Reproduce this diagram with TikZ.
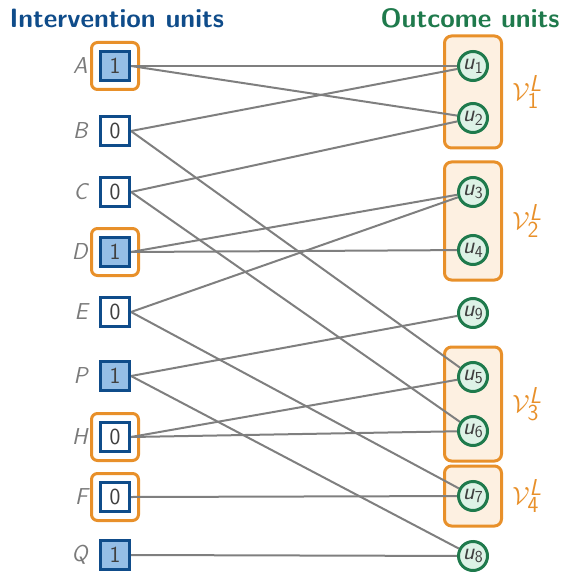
\documentclass[tikz,border=0pt]{standalone}
\usetikzlibrary{fit,calc}
\definecolor{iblue}{HTML}{0F4C8A}
\definecolor{ifill}{HTML}{95BEE6}
\definecolor{ogreen}{HTML}{1F7A4C}
\definecolor{gfill}{HTML}{DDF2E6}
\definecolor{gorange}{HTML}{E8902A}
\definecolor{ofill}{HTML}{FDF0E1}
\definecolor{edgegray}{HTML}{7F7F7F}
\definecolor{labgray}{HTML}{7A7A7A}
\pgfdeclarelayer{frames}
\pgfdeclarelayer{edges}
\pgfsetlayers{frames,edges,main}
\begin{document}
\begin{tikzpicture}[x=1pt,y=-1pt,
  unitbox/.style={draw=iblue, line width=3pt, minimum size=29pt, inner sep=0pt,
    fill=white, text=black!75, font=\sffamily\fontsize{23}{23}\selectfont},
  treated/.style={unitbox, fill=ifill},
  unitlabel/.style={text=labgray, font=\sffamily\itshape\fontsize{23}{23}\selectfont},
  outcome/.style={circle, draw=ogreen, line width=3pt, minimum size=29pt, inner sep=0pt,
    fill=gfill, text=black!75, font=\sffamily\fontsize{24}{24}\selectfont},
  unitframe/.style={draw=gorange, line width=3pt, rounded corners=6pt, inner sep=7.5pt},
  groupframe/.style={draw=gorange, fill=ofill, line width=3pt, rounded corners=7pt,
    inner xsep=12.5pt, inner ysep=14pt},
  grouplabel/.style={text=gorange, font=\sffamily\fontsize{23}{23}\selectfont},
  link/.style={draw=edgegray, line width=2pt},
  heading/.style={font=\sffamily\bfseries\fontsize{26.5}{26.5}\selectfont}
]
\useasboundingbox (0,0) rectangle (565,572);

% headings
\node[heading, text=iblue, anchor=west] (hi) at (6,18) {Intervention units};
\node[heading, text=ogreen, anchor=east] (ho) at (563,18) {Outcome units};

% intervention units
\node[treated] (A) at (115,66) {1};
\node[unitbox] (B) at (115,131) {0};
\node[unitbox] (C) at (115,192) {0};
\node[treated] (D) at (115,252) {1};
\node[unitbox] (E) at (115,312) {0};
\node[treated] (P) at (115,376) {1};
\node[unitbox] (H) at (115,437) {0};
\node[unitbox] (F) at (115,497) {0};
\node[treated] (Q) at (115,555) {1};

\foreach \n in {A,B,C,D,E,P,H,F,Q}
  \node[unitlabel, anchor=east] (l\n) at ($(\n.west)+(-8,0)$) {\n};

% outcome units
\node[outcome] (u1) at (473,66) {\textit{u}\textsubscript{1}};
\node[outcome] (u2) at (473,118) {\textit{u}\textsubscript{2}};
\node[outcome] (u3) at (473,192) {\textit{u}\textsubscript{3}};
\node[outcome] (u4) at (473,250) {\textit{u}\textsubscript{4}};
\node[outcome] (u9) at (473,313) {\textit{u}\textsubscript{9}};
\node[outcome] (u5) at (473,377) {\textit{u}\textsubscript{5}};
\node[outcome] (u6) at (473,431) {\textit{u}\textsubscript{6}};
\node[outcome] (u7) at (473,496) {\textit{u}\textsubscript{7}};
\node[outcome] (u8) at (473,556) {\textit{u}\textsubscript{8}};

% frames
\begin{pgfonlayer}{frames}
  \node[unitframe, fit=(A)] (fA) {};
  \node[unitframe, fit=(D)] (fD) {};
  \node[unitframe, fit=(H)] (fH) {};
  \node[unitframe, fit=(F)] (fF) {};
  \node[groupframe, fit=(u1)(u2)] (g1) {};
  \node[groupframe, fit=(u3)(u4)] (g2) {};
  \node[groupframe, fit=(u5)(u6)] (g3) {};
  \node[groupframe, fit=(u7)] (g4) {};
\end{pgfonlayer}

\node[grouplabel] (v1) at ($(g1.east)+(24,0)$) {$\mathcal{V}^{\textsf{\textit{L}}}_{\textsf{1}}$};
\node[grouplabel] (v2) at ($(g2.east)+(24,0)$) {$\mathcal{V}^{\textsf{\textit{L}}}_{\textsf{2}}$};
\node[grouplabel] (v3) at ($(g3.east)+(24,0)$) {$\mathcal{V}^{\textsf{\textit{L}}}_{\textsf{3}}$};
\node[grouplabel] (v4) at ($(g4.east)+(24,0)$) {$\mathcal{V}^{\textsf{\textit{L}}}_{\textsf{4}}$};

% bipartite links
\begin{pgfonlayer}{edges}
  \foreach \s/\t in {A/u1,A/u2,B/u1,B/u5,C/u2,C/u6,D/u3,D/u4,E/u3,E/u7,
                     P/u9,P/u8,H/u5,H/u6,F/u7,Q/u8}
    \draw[link] (\s.east) -- (\t);
\end{pgfonlayer}
\end{tikzpicture}
\end{document}
